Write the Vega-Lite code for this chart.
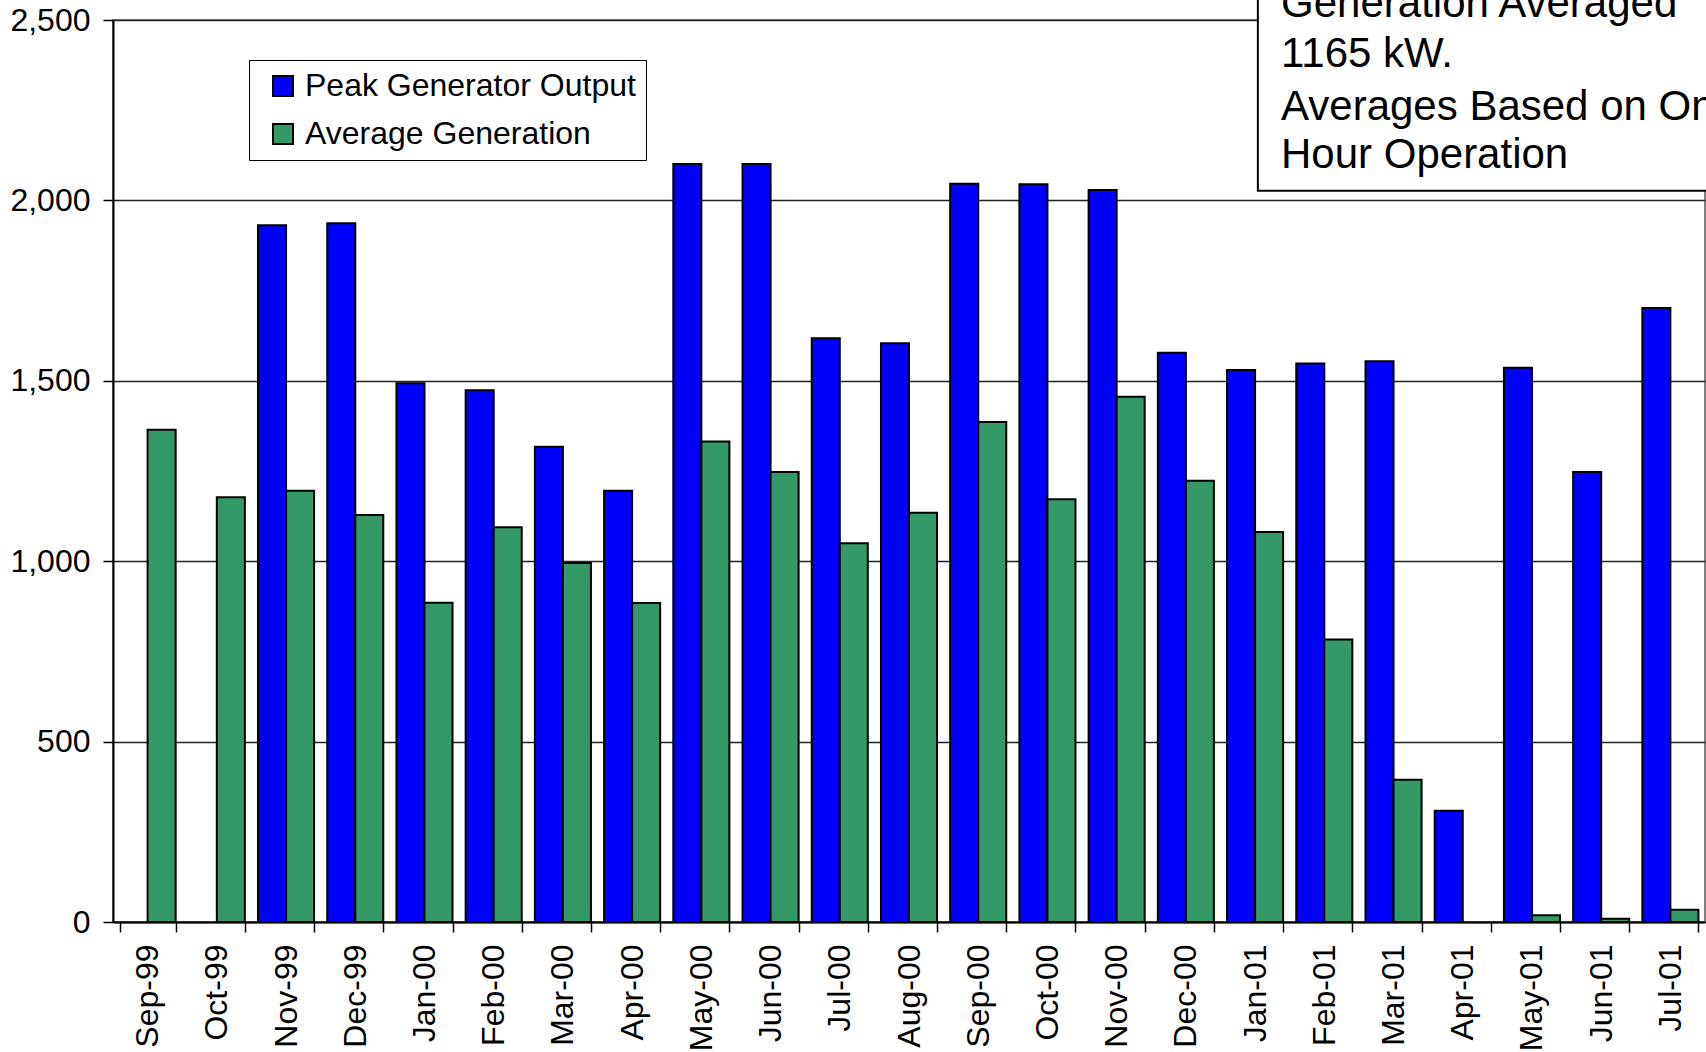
{
  "$schema": "https://vega.github.io/schema/vega-lite/v6.json",
  "width": 1592,
  "height": 902,
  "autosize": {"type": "none"},
  "padding": {"left": 113, "top": 20, "right": 1, "bottom": 130},
  "background": "white",
  "config": {
    "font": "Liberation Sans",
    "view": {"stroke": "#808080", "strokeWidth": 2}
  },
  "datasets": {
    "bars": [
      {"month": "Sep-99", "series": "Average Generation", "value": 1364},
      {"month": "Oct-99", "series": "Average Generation", "value": 1177},
      {"month": "Nov-99", "series": "Peak Generator Output", "value": 1931},
      {"month": "Nov-99", "series": "Average Generation", "value": 1195},
      {"month": "Dec-99", "series": "Peak Generator Output", "value": 1937},
      {"month": "Dec-99", "series": "Average Generation", "value": 1128},
      {"month": "Jan-00", "series": "Peak Generator Output", "value": 1493},
      {"month": "Jan-00", "series": "Average Generation", "value": 885},
      {"month": "Feb-00", "series": "Peak Generator Output", "value": 1474},
      {"month": "Feb-00", "series": "Average Generation", "value": 1094},
      {"month": "Mar-00", "series": "Peak Generator Output", "value": 1317},
      {"month": "Mar-00", "series": "Average Generation", "value": 995},
      {"month": "Apr-00", "series": "Peak Generator Output", "value": 1195},
      {"month": "Apr-00", "series": "Average Generation", "value": 884},
      {"month": "May-00", "series": "Peak Generator Output", "value": 2101},
      {"month": "May-00", "series": "Average Generation", "value": 1332},
      {"month": "Jun-00", "series": "Peak Generator Output", "value": 2101},
      {"month": "Jun-00", "series": "Average Generation", "value": 1247},
      {"month": "Jul-00", "series": "Peak Generator Output", "value": 1618},
      {"month": "Jul-00", "series": "Average Generation", "value": 1050},
      {"month": "Aug-00", "series": "Peak Generator Output", "value": 1604},
      {"month": "Aug-00", "series": "Average Generation", "value": 1134},
      {"month": "Sep-00", "series": "Peak Generator Output", "value": 2046},
      {"month": "Sep-00", "series": "Average Generation", "value": 1386},
      {"month": "Oct-00", "series": "Peak Generator Output", "value": 2045},
      {"month": "Oct-00", "series": "Average Generation", "value": 1172},
      {"month": "Nov-00", "series": "Peak Generator Output", "value": 2029},
      {"month": "Nov-00", "series": "Average Generation", "value": 1456},
      {"month": "Dec-00", "series": "Peak Generator Output", "value": 1578},
      {"month": "Dec-00", "series": "Average Generation", "value": 1223},
      {"month": "Jan-01", "series": "Peak Generator Output", "value": 1530},
      {"month": "Jan-01", "series": "Average Generation", "value": 1081},
      {"month": "Feb-01", "series": "Peak Generator Output", "value": 1548},
      {"month": "Feb-01", "series": "Average Generation", "value": 783},
      {"month": "Mar-01", "series": "Peak Generator Output", "value": 1554},
      {"month": "Mar-01", "series": "Average Generation", "value": 394},
      {"month": "Apr-01", "series": "Peak Generator Output", "value": 308},
      {"month": "May-01", "series": "Peak Generator Output", "value": 1536},
      {"month": "May-01", "series": "Average Generation", "value": 19},
      {"month": "Jun-01", "series": "Peak Generator Output", "value": 1247},
      {"month": "Jun-01", "series": "Average Generation", "value": 9},
      {"month": "Jul-01", "series": "Peak Generator Output", "value": 1702},
      {"month": "Jul-01", "series": "Average Generation", "value": 34}
    ],
    "box": [{"x1": 16.54, "x2": 24, "ylo": 2027, "yhi": 2700}],
    "note": [
      {"line": "Generation Averaged", "pos": 16.875, "val": 2508},
      {"line": "1165 kW.", "pos": 16.875, "val": 2370},
      {"line": "Averages Based on On-Line", "pos": 16.875, "val": 2223},
      {"line": "Hour Operation", "pos": 16.875, "val": 2090}
    ]
  },
  "layer": [
    {
      "data": {"name": "bars"},
      "mark": {"type": "bar", "stroke": "black", "strokeWidth": 2},
      "encoding": {
        "x": {
          "field": "month",
          "type": "nominal",
          "sort": ["Sep-99","Oct-99","Nov-99","Dec-99","Jan-00","Feb-00","Mar-00","Apr-00","May-00","Jun-00","Jul-00","Aug-00","Sep-00","Oct-00","Nov-00","Dec-00","Jan-01","Feb-01","Mar-01","Apr-01","May-01","Jun-01","Jul-01"],
          "scale": {"paddingInner": 0.19, "paddingOuter": 0.095},
          "axis": {
            "title": null,
            "labelAngle": -90,
            "labelFont": "Liberation Sans",
            "labelFontSize": 32,
            "labelColor": "black",
            "labelPadding": 12,
            "tickBand": "extent",
            "tickSize": 10,
            "tickColor": "black",
            "tickWidth": 1.5,
            "domainColor": "black",
            "domainWidth": 2,
            "grid": false
          }
        },
        "xOffset": {
          "field": "series",
          "type": "nominal",
          "sort": ["Peak Generator Output", "Average Generation"],
          "scale": {"paddingInner": 0, "paddingOuter": 0}
        },
        "y": {
          "field": "value",
          "type": "quantitative",
          "scale": {"domain": [0, 2500], "nice": false},
          "axis": {
            "title": null,
            "values": [0, 500, 1000, 1500, 2000, 2500],
            "format": ",.0f",
            "labelFont": "Liberation Sans",
            "labelFontSize": 32,
            "labelColor": "black",
            "labelPadding": 13,
            "tickSize": 10,
            "tickColor": "black",
            "tickWidth": 1.5,
            "domainColor": "black",
            "domainWidth": 2,
            "grid": true,
            "gridColor": "#222222",
            "gridWidth": 1.3
          }
        },
        "color": {
          "field": "series",
          "type": "nominal",
          "sort": ["Peak Generator Output", "Average Generation"],
          "scale": {"domain": ["Peak Generator Output", "Average Generation"], "range": ["#0000FF", "#339966"]},
          "legend": {
            "title": null,
            "orient": "none",
            "legendX": 136,
            "legendY": 40,
            "direction": "vertical",
            "fillColor": "white",
            "strokeColor": "black",
            "padding": 10,
            "symbolType": "square",
            "symbolSize": 400,
            "symbolStrokeColor": "black",
            "symbolStrokeWidth": 2,
            "symbolOpacity": 1,
            "symbolOffset": 8,
            "labelFont": "Liberation Sans",
            "labelFontSize": 32,
            "labelColor": "black",
            "labelOffset": 6,
            "labelLimit": 600,
            "rowPadding": 16
          }
        }
      }
    },
    {
      "data": {"name": "box"},
      "mark": {"type": "rect", "fill": "white", "stroke": "black", "strokeWidth": 2},
      "encoding": {
        "x": {"field": "x1", "type": "quantitative", "scale": {"domain": [0, 23], "nice": false, "zero": false}, "axis": null},
        "x2": {"field": "x2"},
        "y": {"field": "ylo", "type": "quantitative", "title": null},
        "y2": {"field": "yhi"}
      }
    },
    {
      "data": {"name": "note"},
      "mark": {"type": "text", "align": "left", "baseline": "alphabetic", "fontSize": 42, "font": "Liberation Sans", "color": "black"},
      "encoding": {
        "x": {"field": "pos", "type": "quantitative", "scale": {"domain": [0, 23], "nice": false, "zero": false}, "axis": null},
        "y": {"field": "val", "type": "quantitative", "title": null},
        "text": {"field": "line"}
      }
    }
  ],
  "resolve": {"scale": {"x": "independent"}}
}
